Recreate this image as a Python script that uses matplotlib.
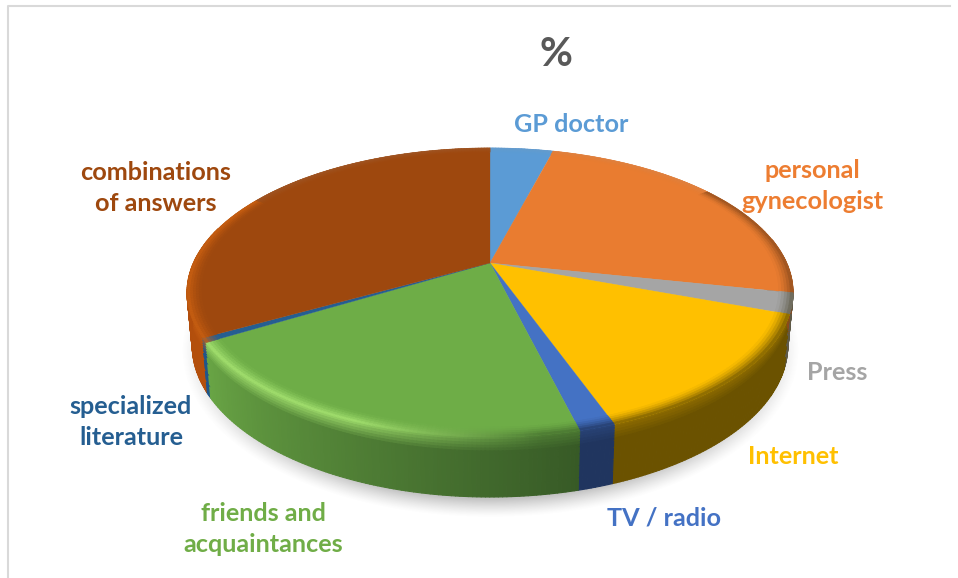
import numpy as np
import matplotlib
matplotlib.use("Agg")
import matplotlib.pyplot as plt
from matplotlib.collections import PolyCollection
from matplotlib.colors import to_rgb

categories = ["GP doctor", "personal\ngynecologist", "Press", "Internet", "TV / radio",
              "friends and\nacquaintances", "specialized\nliterature", "combinations\nof answers"]
values = [4.1, 24.2, 2.3, 13.9, 1.6, 20.3, 0.5, 33.1]
top_colors = ["#5B9BD5", "#E97C30", "#A5A5A5", "#FFC000", "#4472C4", "#6EAD47", "#255E91", "#9E480E"]
text_colors = ["#5B9BD5", "#ED7D31", "#A5A5A5", "#FFC000", "#4472C4", "#70AD47", "#255E91", "#9E480E"]
wall_near = ["#3A6690", "#8A4A1C", "#5E5A48", "#6B5200", "#20355F", "#375A26", "#20558A", "#B44F0C"]
wall_far = ["#3A6690", "#8A4A1C", "#5E5A48", "#6B5200", "#20355F", "#69A545", "#20558A", "#A84A0C"]
label_xy = [(571, 124), (812, 186), (837, 372), (793, 457), (664, 518), (263, 529), (131, 422), (156, 188)]

plt.rcParams["font.family"] = ["Lato", "DejaVu Sans"]
W, H = 958, 578
fig = plt.figure(figsize=(W / 100, H / 100), dpi=100, facecolor="white")
ax = fig.add_axes([0, 0, 1, 1])
ax.set_xlim(0, W)
ax.set_ylim(H, 0)
ax.axis("off")

# outer chart frame
ax.plot([8.5, 8.5, 950], [H, 5.5, 5.5], color="#D9D9D9", lw=1.5, zorder=1)

# perspective projection of the disc
CX, CY, A, B, K = 490.0, 263.0, 296.6, 138.5, 0.204
CY2, A2, B2 = 314.6, 291.5, 145.2


def ring(theta, r=1.0, low=False):
    u, v = r * np.sin(theta), r * np.cos(theta)
    w = 1 + K * v
    if low:
        return CX + A2 * u / w, CY2 - B2 * v / w
    return CX + A * u / w, CY - B * v / w


# soft ground shadow
yy, xx = np.mgrid[0:H, 0:W]
dist = np.sqrt(((xx - 490) / 309.0) ** 2 + ((yy - 350) / 167.0) ** 2)
shadow = np.zeros((H, W, 4))
shadow[..., :3] = 0.45
shadow[..., 3] = np.clip((1.0 - dist) / 0.11, 0, 1) ** 1.3 * 0.42
ax.imshow(shadow, extent=(0, W, H, 0), zorder=2, aspect="auto", interpolation="bilinear")
ax.set_xlim(0, W)
ax.set_ylim(H, 0)

edges = np.radians(np.concatenate([[0], np.cumsum(values)]) * 3.6)


def mix(c1, c2, t):
    return tuple(np.array(c1) * (1 - t) + np.array(c2) * t)


RIM = 0.955
wall_polys, wall_cols = [], []
rim_polys, rim_cols = [], []

for i in range(len(values)):
    t0, t1 = edges[i], edges[i + 1]
    top = to_rgb(top_colors[i])
    near, far = to_rgb(wall_near[i]), to_rgb(wall_far[i])
    n = max(3, int(np.degrees(t1 - t0) * 1.5))
    ths = np.linspace(t0, t1, n + 1)

    # top face
    tt = np.linspace(t0, t1, 160)
    xs, ys = ring(tt)
    ax.fill(np.r_[CX, xs], np.r_[CY, ys], color=top, lw=0.2, zorder=6)

    for a, b in zip(ths[:-1], ths[1:]):
        mid = 0.5 * (a + b)
        f = (mid - t0) / max(t1 - t0, 1e-6)
        wall = mix(near, far, f)
        deg = np.degrees(mid)
        # rim colour: highlight on the lit front left, dark on the right
        if 165 < deg < 240 and i == 5:
            h = np.clip((deg - 172) / 30, 0, 1)
            rim_c = mix(mix(top, wall, 0.6), (0.62, 0.86, 0.42), h)
        elif 235 < deg < 300:
            rim_c = mix(top, (0.80, 0.38, 0.07), 0.8)
        elif deg >= 300 or deg < 55:
            rim_c = mix(top, (0.62, 0.62, 0.62), 0.12)
        else:
            rim_c = mix(top, wall, 0.75)

        # bevel on the top face
        rs = np.linspace(RIM, 1.0, 6)
        for r0, r1 in zip(rs[:-1], rs[1:]):
            xa0, ya0 = ring(a, r0)
            xb0, yb0 = ring(b, r0)
            xa1, ya1 = ring(a, r1)
            xb1, yb1 = ring(b, r1)
            rim_polys.append([(xa0, ya0), (xb0, yb0), (xb1, yb1), (xa1, ya1)])
            rim_cols.append(mix(top, rim_c, ((r1 - RIM) / (1 - RIM)) ** 1.5))

        # side wall
        if 80 <= deg <= 285:
            xat, yat = ring(a)
            xbt, ybt = ring(b)
            xal, yal = ring(a, low=True)
            xbl, ybl = ring(b, low=True)
            ss = np.r_[np.linspace(0, 0.28, 7), np.linspace(0.4, 1, 4)]
            for s0, s1 in zip(ss[:-1], ss[1:]):
                wall_polys.append([
                    (xat + (xal - xat) * s0, yat + (yal - yat) * s0),
                    (xbt + (xbl - xbt) * s0, ybt + (ybl - ybt) * s0),
                    (xbt + (xbl - xbt) * s1, ybt + (ybl - ybt) * s1),
                    (xat + (xal - xat) * s1, yat + (yal - yat) * s1)])
                wall_cols.append(mix(rim_c, wall, min(s1 / 0.28, 1)))

order = sorted(range(len(wall_polys)), key=lambda j: np.mean([p[1] for p in wall_polys[j]]))
ax.add_collection(PolyCollection([wall_polys[j] for j in order],
                                 facecolors=[wall_cols[j] for j in order],
                                 edgecolors="face", linewidths=0.8, zorder=4))
ax.add_collection(PolyCollection(rim_polys, facecolors=rim_cols, edgecolors="face",
                                 linewidths=0.5, zorder=7))

# labels
for name, (x, y), c in zip(categories, label_xy, text_colors):
    ax.text(x, y, name, color=c, fontsize=18.2, fontweight="bold", ha="center", va="center",
            linespacing=1.4, zorder=10)
ax.text(556, 54, "%", color="#595959", fontsize=29, fontweight="bold", ha="center", va="center", zorder=10)

fig.savefig("out.png", dpi=100, facecolor="white")
